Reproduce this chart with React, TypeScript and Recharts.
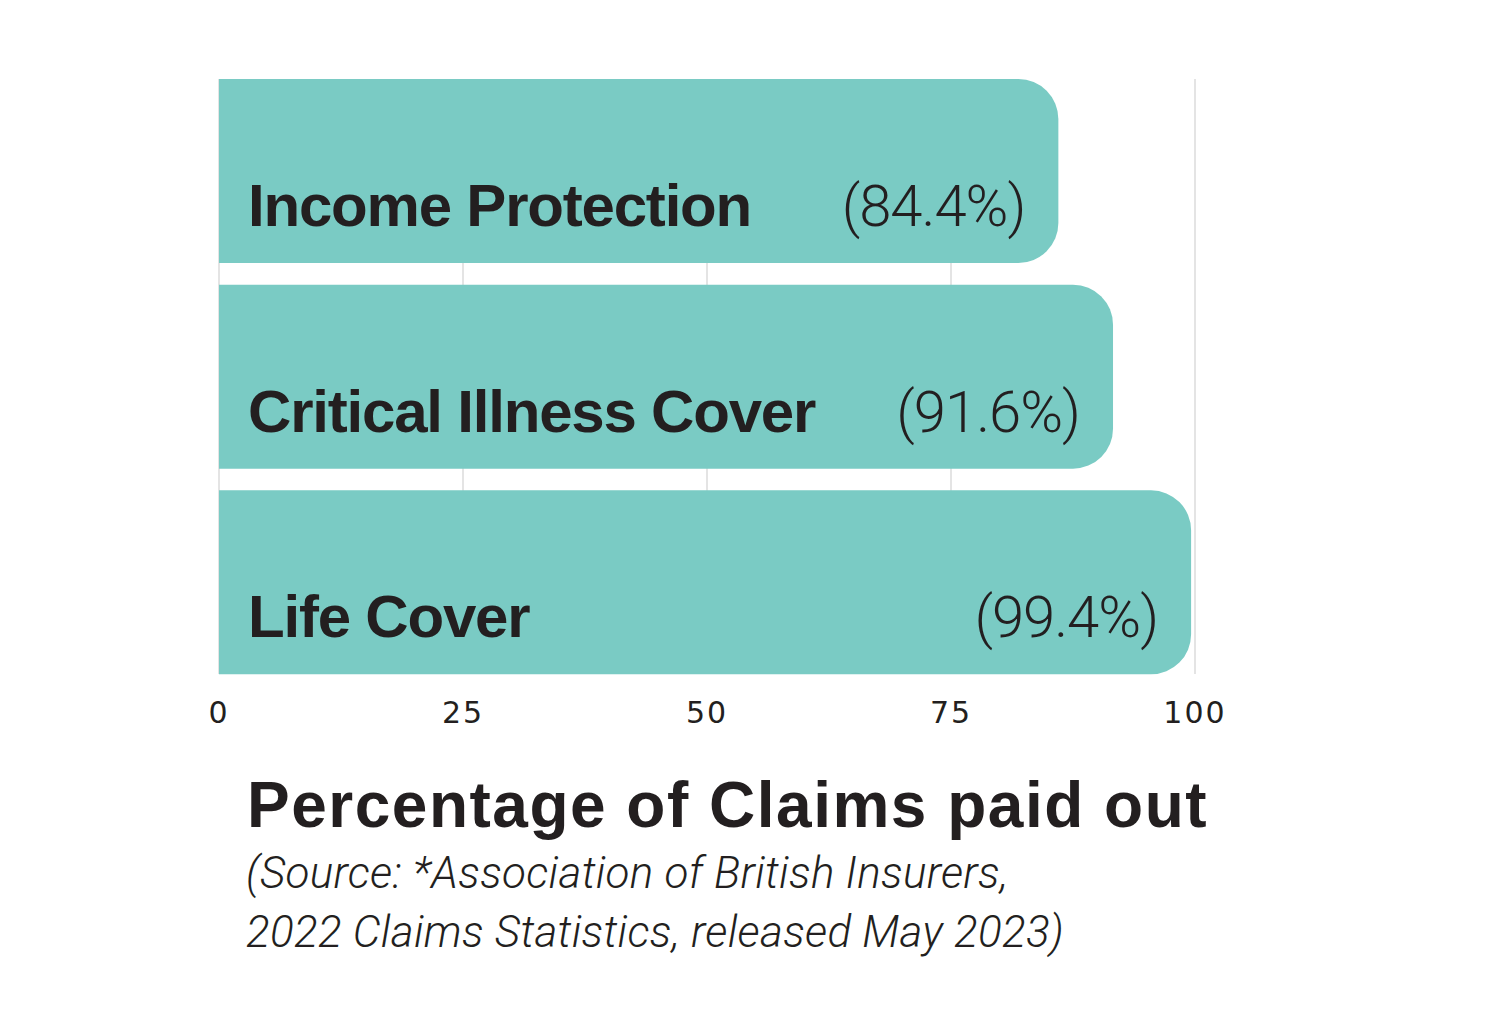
import { BarChart, Bar, XAxis, YAxis, CartesianGrid, LabelList } from "recharts"

const categories = ["Income Protection", "Critical Illness Cover", "Life Cover"]
// bar lengths as drawn in the picture (percent of claims paid out)
const barValues = [86, 91.6, 99.6]
const valueLabels = ["(84.4%)", "(91.6%)", "(99.4%)"]
const xTicks = [0, 25, 50, 75, 100]

const title = "Percentage of Claims paid out"
const sourceLines = [
  "(Source: *Association of British Insurers,",
  "2022 Claims Statistics, released May 2023)",
]

const BAR_COLOR = "#7acbc4"
const TEXT_COLOR = "#231f20"

const chartData = categories.map((name, i) => ({
  name,
  value: barValues[i],
  label: valueLabels[i],
}))

function BarText(props: any) {
  const { x, y, width, index } = props
  const baseline = y + 147
  return (
    <g>
      <text
        x={x + 29}
        y={baseline}
        fill={TEXT_COLOR}
        fontFamily="'Liberation Sans', Arial, sans-serif"
        fontWeight={700}
        fontSize={60}
        letterSpacing={-1.2}
      >
        {categories[index]}
      </text>
      <text
        x={x + width - 33}
        y={baseline}
        textAnchor="end"
        fill={TEXT_COLOR}
        fontFamily="Roboto, 'Liberation Sans', sans-serif"
        fontWeight={300}
        fontSize={58}
        letterSpacing={-1}
      >
        {valueLabels[index]}
      </text>
    </g>
  )
}

export default function App() {
  return (
    <div style={{ position: "absolute", left: 0, top: 0, width: 1500, height: 1018, background: "#fff" }}>
      <BarChart
        width={1500}
        height={760}
        data={chartData}
        layout="vertical"
        margin={{ top: 68, right: 305, bottom: 45, left: 219 }}
        barSize={184}
      >
        <CartesianGrid horizontal={false} stroke="#e4e4e4" strokeWidth={2} y={79} height={595} />
        <XAxis
          type="number"
          domain={[0, 100]}
          ticks={xTicks}
          axisLine={false}
          tickLine={false}
          tickMargin={11}
          tick={{ fill: TEXT_COLOR, fontSize: 30, fontFamily: "'DejaVu Sans', sans-serif", letterSpacing: 2 }}
        />
        <YAxis type="category" dataKey="name" hide width={0} />
        <Bar dataKey="value" fill={BAR_COLOR} radius={[0, 40, 40, 0]} isAnimationActive={false}>
          <LabelList dataKey="label" content={<BarText />} />
        </Bar>
      </BarChart>
      <svg width={1500} height={258} style={{ position: "absolute", left: 0, top: 760 }}>
        <text
          x={247}
          y={827 - 760}
          fill={TEXT_COLOR}
          fontFamily="'Liberation Sans', Arial, sans-serif"
          fontWeight={700}
          fontSize={64}
          letterSpacing={1.5}
        >
          {title}
        </text>
        {sourceLines.map((line, i) => (
          <text
            key={line}
            x={246}
            y={888 - 760 + i * 59}
            fill={TEXT_COLOR}
            fontFamily="Roboto, 'Liberation Sans', sans-serif"
            fontWeight={300}
            fontStyle="italic"
            fontSize={44}
            letterSpacing={0.3}
          >
            {line}
          </text>
        ))}
      </svg>
    </div>
  )
}
